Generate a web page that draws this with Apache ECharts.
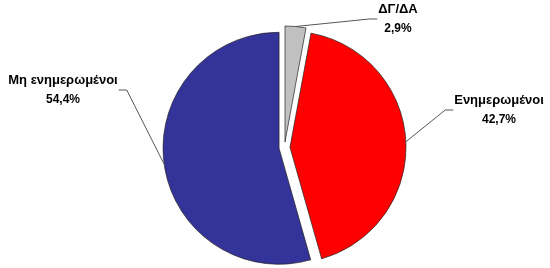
<!DOCTYPE html>
<html>
<head>
<meta charset="utf-8">
<script src="https://cdn.jsdelivr.net/npm/echarts@6/dist/echarts.min.js"></script>
<style>html,body{margin:0;padding:0;background:#fff;}#c{width:550px;height:268px;}</style>
</head>
<body>
<div id="c"></div>
<script>
const categories = ['ΔΓ/ΔΑ', 'Ενημερωμένοι', 'Μη ενημερωμένοι'];
const values = [2.9, 42.7, 54.4];
const valueLabels = ['2,9%', '42,7%', '54,4%'];
const colors = ['#C0C0C0', '#FF0000', '#333399'];

// label block centres and leader side (layout only)
const labelPos = [[398, 19], [499, 110], [63, 90]];
const leaderSide = ['left', 'left', 'right'];

const PIE_CENTER = [284.5, 147.5];
const PIE_R = 116;
const EXPLODE = 5.5;

const chart = echarts.init(document.getElementById('c'));
chart.setOption({
  animation: false,
  series: [{
    type: 'pie',
    center: PIE_CENTER,
    radius: PIE_R,
    startAngle: 90,
    clockwise: true,
    silent: true,
    selectedMode: 'multiple',
    selectedOffset: EXPLODE,
    data: categories.map((n, i) => ({
      name: n, value: values[i], selected: true,
      itemStyle: { color: colors[i] }
    })),
    itemStyle: { borderColor: '#222', borderWidth: 0.7 },
    label: { show: false },
    labelLine: { show: false }
  }, {
    type: 'pie',
    center: PIE_CENTER,
    radius: PIE_R + EXPLODE,
    startAngle: 90,
    clockwise: true,
    silent: true,
    z: 3,
    data: categories.map((n, i) => ({ name: n, value: values[i] })),
    itemStyle: { color: 'rgba(0,0,0,0)', borderWidth: 0 },
    label: {
      show: true,
      formatter: p => '{n|' + p.name + '}\n{v|' + valueLabels[p.dataIndex] + '}',
      fontFamily: 'Liberation Sans, Arial, sans-serif',
      fontWeight: 'bold',
      color: '#000',
      align: 'center',
      rich: {
        n: { fontSize: 13, fontWeight: 'bold', fontFamily: 'Liberation Sans, Arial, sans-serif', lineHeight: 19, align: 'center' },
        v: { fontSize: 12, fontWeight: 'bold', fontFamily: 'Liberation Sans, Arial, sans-serif', lineHeight: 19, align: 'center' }
      }
    },
    labelLine: {
      show: true,
      length: 10,
      length2: 10,
      lineStyle: { color: '#555', width: 1 }
    },
    labelLayout: p => {
      const i = p.dataIndex;
      const w = p.labelRect.width;
      const cx = labelPos[i][0], cy = labelPos[i][1];
      const start = p.labelLinePoints ? p.labelLinePoints[0] : [cx, cy];
      const edgeX = leaderSide[i] === 'left' ? cx - w / 2 - 1 : cx + w / 2 + 1;
      const kneeX = leaderSide[i] === 'left' ? edgeX - 8 : edgeX + 8;
      return {
        x: cx, y: cy, align: 'center', verticalAlign: 'middle',
        labelLinePoints: [start, [kneeX, cy], [edgeX, cy]]
      };
    }
  }]
});
</script>
</body>
</html>
